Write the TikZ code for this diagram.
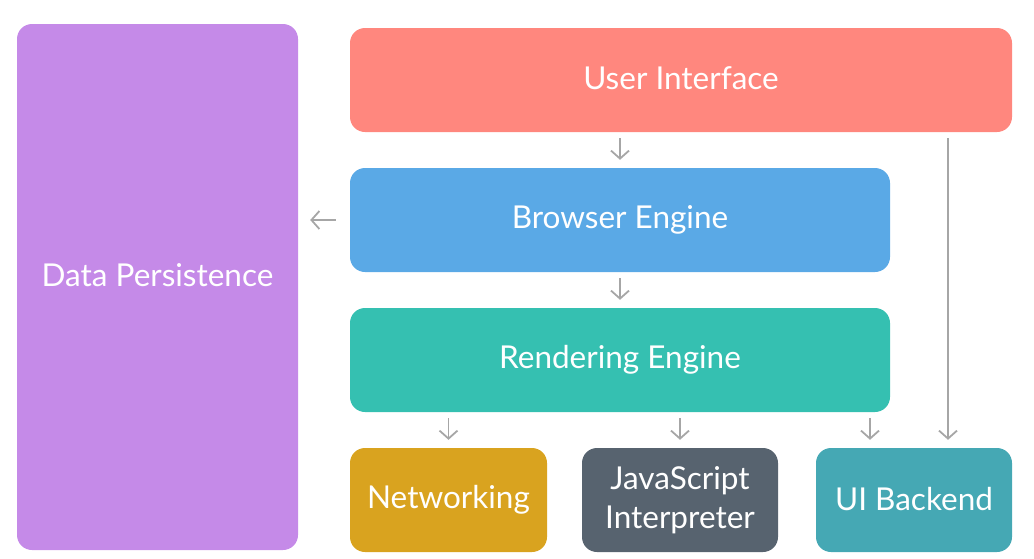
\documentclass[tikz,border=0pt]{standalone}
\usepackage{fontspec}
\setmainfont{Lato}
\usetikzlibrary{arrows.meta,calc}
\definecolor{cUI}{HTML}{FF877E}
\definecolor{cBE}{HTML}{5AA9E6}
\definecolor{cRE}{HTML}{35C0B1}
\definecolor{cNet}{HTML}{D9A31F}
\definecolor{cJS}{HTML}{57636F}
\definecolor{cUIB}{HTML}{45A8B4}
\definecolor{cDP}{HTML}{C58AE8}
\definecolor{cArr}{HTML}{A6A6A6}
\tikzset{
  box/.style={rounded corners=15pt, inner sep=0pt, text=white, align=center,
    font=\fontsize{31.5}{39}\selectfont, minimum height=104pt},
  arr/.style={draw=cArr, line width=1.8pt, -{Straight Barb[length=8pt,width=18pt,line width=1.8pt]},
    shorten <=6pt, shorten >=8pt}
}
\begin{document}
\begin{tikzpicture}[x=1pt,y=-1pt]
\useasboundingbox (0,0) rectangle (1034,558);
\node[box, fill=cDP, minimum width=281pt, minimum height=526pt] (dp) at (157.5,287) {\raisebox{23pt}{Data Persistence}};
\node[box, fill=cUI, minimum width=662pt] (ui) at (681,80) {\raisebox{4pt}{User Interface}};
\node[box, fill=cBE, minimum width=540pt] (be) at (620,220) {\raisebox{2pt}{Browser Engine}};
\node[box, fill=cRE, minimum width=540pt] (re) at (620,360) {\raisebox{2pt}{Rendering Engine}};
\node[box, fill=cNet, minimum width=197pt] (net) at (448.5,500) {\raisebox{3pt}{Networking}};
\node[box, fill=cJS, minimum width=196pt] (js) at (680,500) {JavaScript\\Interpreter};
\node[box, fill=cUIB, minimum width=196pt] (uib) at (914,500) {\raisebox{3pt}{UI Backend}};
\draw[arr] (ui.south -| be.north) -- (be.north);
\draw[arr] (be.south) -- (re.north);
\draw[arr, shorten <=14pt, shorten >=12pt] (be.west) -- (dp.east |- be.west);
\draw[arr] (re.south -| net.north) -- (net.north);
\draw[arr] (re.south -| js.north) -- (js.north);
\draw[arr] ([xshift=-44pt]uib.north |- re.south) -- ([xshift=-44pt]uib.north);
\draw[arr] ([xshift=34pt]uib.north |- ui.south) -- ([xshift=34pt]uib.north);
\end{tikzpicture}
\end{document}
